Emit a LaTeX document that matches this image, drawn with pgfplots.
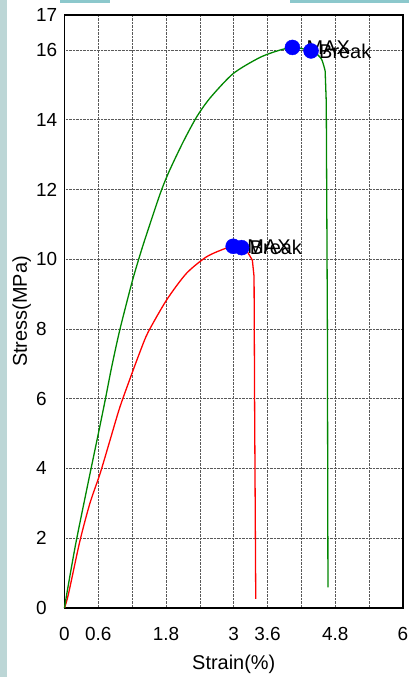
\documentclass[border=0pt]{standalone}
\usepackage{fontspec}
\setmainfont{Liberation Sans}
\usepackage{pgfplots}
\pgfplotsset{compat=1.18}

\definecolor{curvegreen}{RGB}{0,135,0}
\definecolor{curvered}{RGB}{255,0,0}
\definecolor{edgeband}{RGB}{188,214,214}
\definecolor{topband}{RGB}{140,200,204}

\begin{document}
\begin{tikzpicture}
\useasboundingbox (-64.5bp,-69bp) rectangle (344.5bp,608bp);
\fill[white] (-64.5bp,-69bp) rectangle (344.5bp,608bp);
\fill[edgeband] (-64.5bp,-69bp) rectangle (-57.5bp,608bp);
\fill[topband] (-4.5bp,605bp) rectangle (45.5bp,608bp);
\fill[topband] (225.5bp,605bp) rectangle (344.5bp,608bp);

\begin{axis}[
  at={(0,0)}, anchor=south west,
  scale only axis, width=338.5bp, height=593bp,
  xmin=0, xmax=6, ymin=0, ymax=17,
  xtick={0,0.6,1.2,1.8,2.4,3,3.6,4.2,4.8,5.4,6},
  xticklabels={0,0.6,,1.8,,3,3.6,,4.8,,6},
  ytick={0,2,4,6,8,10,12,14,16,17},
  yticklabels={0,2,4,6,8,10,12,14,16,17},
  major tick length=0pt,
  grid=major,
  grid style={densely dotted, black!65, line width=0.7bp},
  axis line style={line width=1.6bp, black},
  ticklabel style={font=\fontsize{19}{22}\selectfont, inner sep=0pt},
  xticklabel style={anchor=north, yshift=-19bp},
  yticklabel style={anchor=west, xshift=-28.5bp},
  xlabel={Strain(\%)},
  ylabel={Stress(MPa)},
  label style={font=\fontsize{20}{24}\selectfont, inner sep=0pt},
  xlabel style={at={([yshift=-61bp]axis description cs:0.5,0)}, anchor=base},
  ylabel style={at={([xshift=-37.5bp]axis description cs:0,0.5)}, anchor=base},
  clip=false,
]

% specimen 2 (red): loading branch, then fracture drop
\addplot[curvered, line width=1.3bp, smooth, tension=0.45] coordinates {
  (0,0) (0.07,0.4) (0.27,1.9) (0.45,3.0) (0.63,3.85) (0.805,4.8)
  (0.98,5.75) (1.19,6.7) (1.34,7.35) (1.48,7.9) (1.81,8.83)
  (2.16,9.59) (2.52,10.07) (2.87,10.32) (2.99,10.37) (3.14,10.33)
  (3.22,10.26) (3.33,9.97)
};
\addplot[curvered, line width=1.3bp] coordinates {
  (3.33,9.97) (3.36,9.5) (3.37,5.78) (3.39,0.26)
};

% specimen 1 (green): loading branch, then fracture drop
\addplot[curvegreen, line width=1.3bp, smooth, tension=0.45] coordinates {
  (0,0) (0.04,0.4) (0.20,1.85) (0.42,3.6) (0.60,5.0) (0.72,5.95)
  (0.835,6.9) (0.98,7.97) (1.19,9.3) (1.31,9.97) (1.42,10.54)
  (1.69,11.85) (1.85,12.5) (2.10,13.35) (2.34,14.07) (2.58,14.62)
  (2.99,15.32) (3.46,15.78) (3.81,15.99) (4.04,16.07) (4.20,16.04)
  (4.37,15.97) (4.46,15.9) (4.56,15.72) (4.62,15.4)
};
\addplot[curvegreen, line width=1.3bp] coordinates {
  (4.62,15.4) (4.64,14.5) (4.66,8) (4.67,0.59)
};

% maximum points
\addplot[only marks, mark=*, mark size=7.5bp, mark options={draw=blue, fill=blue},
  nodes near coords, point meta=explicit symbolic,
  nodes near coords style={anchor=west, inner sep=0pt, xshift=14bp,
    font=\fontsize{20}{24}\selectfont, text=black}]
  table[meta=lab] {
  x y lab
  2.99 10.37 MAX
  4.04 16.07 MAX
};

% break points
\addplot[only marks, mark=*, mark size=7.5bp, mark options={draw=blue, fill=blue},
  nodes near coords, point meta=explicit symbolic,
  nodes near coords style={anchor=west, inner sep=0pt, xshift=8bp,
    font=\fontsize{20}{24}\selectfont, text=black}]
  table[meta=lab] {
  x y lab
  3.14 10.33 Break
  4.37 15.97 Break
};
\end{axis}
\end{tikzpicture}
\end{document}
